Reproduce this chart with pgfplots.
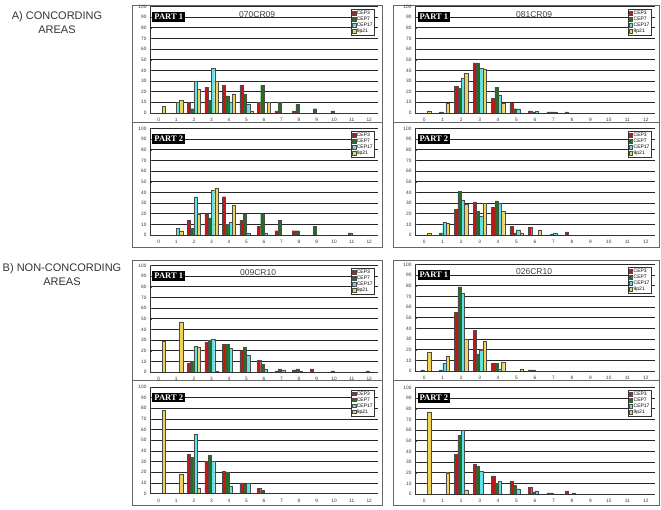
\documentclass[border=0pt]{standalone}
\usepackage{fontspec}
\setmainfont{Liberation Sans}
\newfontfamily\partfont{Liberation Serif}
\usepackage{pgfplots}
\pgfplotsset{compat=1.18}
\definecolor{cep3}{RGB}{196,22,22}
\definecolor{cep7}{RGB}{34,112,34}
\definecolor{cep17}{RGB}{95,225,235}
\definecolor{p21}{RGB}{240,212,90}
\tikzset{
  partlab/.style={fill=black, text=white, font=\partfont\bfseries\fontsize{8.5}{9}\selectfont,
    inner xsep=2pt, inner ysep=2pt, anchor=north west},
  titlelab/.style={font=\fontsize{8.5}{9}\selectfont, text=black!75},
}
\pgfplotsset{
  sqleg/.style={legend image code/.code={\draw[##1,line width=0.35pt] (0pt,-1.7pt) rectangle (3.4pt,1.7pt);}},
  s3/.style={fill=cep3, draw=black!70, line width=0.3pt, sqleg},
  s7/.style={fill=cep7, draw=black!70, line width=0.3pt, sqleg},
  s17/.style={fill=cep17, draw=black!70, line width=0.3pt, sqleg},
  s21/.style={fill=p21, draw=black!70, line width=0.3pt, sqleg},
  panel/.style={
    scale only axis, height=106.5pt,
    ybar=0pt, bar width=3.3pt,
    xmin=-0.5, xmax=12.5, ymin=0, ymax=100,
    xtick={0,...,12}, ytick={0,10,...,100},
    ymajorgrids, grid style={black!85, line width=0.7pt},
    axis line style={draw=none},
    tick pos=left,
    major x tick style={draw=none},
    major y tick style={black!70, line width=0.4pt},
    major tick length=2pt,
    tick label style={font=\fontsize{4.8}{5}\selectfont, text=black!80},
    /pgf/number format/assume math mode=true,
    clip=false,
    legend style={at={(rel axis cs:0.985,0.975)}, anchor=north east,
      font=\fontsize{5}{5.5}\selectfont, draw=black!80, line width=0.4pt, fill=white,
      inner sep=0.8pt, row sep=-0.4pt,
      nodes={inner sep=0.9pt, text height=3.6pt, text depth=1pt}},
    legend cell align=left,
    after end axis/.code={
      \draw[black!80, line width=0.6pt] (rel axis cs:0,0) -- (rel axis cs:0,1);
      \draw[black!80, line width=0.6pt] (rel axis cs:0,0) -- (rel axis cs:1,0);
    },
  },
}
\begin{document}
\begin{tikzpicture}
\useasboundingbox (0,0) rectangle (661pt,509pt);
% frames
\draw[black!60, line width=0.6pt] (132pt,504pt) rectangle (382pt,262pt);
\draw[black!60, line width=0.6pt] (132pt,387pt) -- (382pt,387pt);
\draw[black!60, line width=0.6pt] (393pt,504pt) rectangle (659pt,262pt);
\draw[black!60, line width=0.6pt] (393pt,387pt) -- (659pt,387pt);
\draw[black!60, line width=0.6pt] (132pt,249pt) rectangle (382pt,4pt);
\draw[black!60, line width=0.6pt] (132pt,129pt) -- (382pt,129pt);
\draw[black!60, line width=0.6pt] (393pt,249pt) rectangle (659pt,4pt);
\draw[black!60, line width=0.6pt] (393pt,129pt) -- (659pt,129pt);
% side labels
\node[font=\fontsize{11}{14}\selectfont, text=black!80, align=center] at (57pt,486pt) {A) CONCORDING\\AREAS};
\node[font=\fontsize{11}{14}\selectfont, text=black!80, align=center] at (62pt,234pt) {B) NON-CONCORDING\\AREAS};

% ---------- 070CR09 Part 1
\begin{axis}[panel, width=228pt, at={(150pt,396pt)}]
\addplot[s3] coordinates {(2,10)(3,24)(4,26)(5,26)(6,10)(7,2)(8,2)};
\addplot[s7] coordinates {(2,4)(3,12)(4,16)(5,18)(6,26)(7,10)(8,8)(9,4)(10,2)};
\addplot[s17] coordinates {(1,10)(2,30)(3,42)(4,10)(5,8)};
\addplot[s21] coordinates {(0,6)(1,12)(2,22)(3,30)(4,18)(5,2)(6,10)};
\legend{CEP3,CEP7,CEP17,9p21}
\node[partlab] at (rel axis cs:0.01,0.95) {PART 1};
\node[titlelab] at (rel axis cs:0.47,0.922) {070CR09};
\end{axis}
% ---------- 070CR09 Part 2
\begin{axis}[panel, width=228pt, at={(150pt,274pt)}]
\addplot[s3] coordinates {(2,14)(3,20)(4,36)(5,14)(6,8)(7,4)(8,4)};
\addplot[s7] coordinates {(2,6)(3,16)(4,10)(5,20)(6,20)(7,14)(8,4)(9,8)(11,2)};
\addplot[s17] coordinates {(1,6)(2,36)(3,42)(4,12)(5,2)(6,2)};
\addplot[s21] coordinates {(1,4)(2,20)(3,44)(4,28)};
\legend{CEP3,CEP7,CEP17,9p21}
\node[partlab] at (rel axis cs:0.01,0.95) {PART 2};
\end{axis}
% ---------- 081CR09 Part 1
\begin{axis}[panel, width=240pt, at={(415pt,396pt)}]
\addplot[s3] coordinates {(2,25)(3,47)(4,14)(5,9)(6,2)(7,1)(8,1)};
\addplot[s7] coordinates {(1,1)(2,23)(3,47)(4,24)(5,4)(6,1)(7,1)};
\addplot[s17] coordinates {(2,33)(3,42)(4,17)(5,4)(6,2)(7,1)};
\addplot[s21] coordinates {(0,2)(1,9)(2,37)(3,41)(4,9)};
\legend{CEP3,CEP7,CEP17,9p21}
\node[partlab] at (rel axis cs:0.01,0.95) {PART 1};
\node[titlelab] at (rel axis cs:0.496,0.922) {081CR09};
\end{axis}
% ---------- 081CR09 Part 2
\begin{axis}[panel, width=240pt, at={(415pt,274pt)}]
\addplot[s3] coordinates {(2,24)(3,31)(4,26)(5,8)(6,7)(8,3)};
\addplot[s7] coordinates {(1,2)(2,41)(3,22)(4,32)(5,2)(7,1)};
\addplot[s17] coordinates {(1,12)(2,33)(3,18)(4,30)(5,5)(7,2)};
\addplot[s21] coordinates {(0,2)(1,11)(2,29)(3,30)(4,22)(5,2)(6,5)};
\legend{CEP3,CEP7,CEP17,9p21}
\node[partlab] at (rel axis cs:0.01,0.95) {PART 2};
\end{axis}
% ---------- 009CR10 Part 1
\begin{axis}[panel, width=228pt, at={(150pt,137pt)}]
\addplot[s3] coordinates {(2,8)(3,28)(4,26)(5,20)(6,11)(7,1)(8,2)(9,3)};
\addplot[s7] coordinates {(2,10)(3,30)(4,26)(5,23)(6,7)(7,3)(8,3)(10,1)(12,1)};
\addplot[s17] coordinates {(2,24)(3,31)(4,22)(5,16)(6,3)(7,2)(8,1)};
\addplot[s21] coordinates {(0,29)(1,47)(2,23)(3,1)};
\legend{CEP3,CEP7,CEP17,9p21}
\node[partlab] at (rel axis cs:0.01,0.95) {PART 1};
\node[titlelab] at (rel axis cs:0.474,0.934) {009CR10};
\end{axis}
% ---------- 009CR10 Part 2
\begin{axis}[panel, width=228pt, at={(150pt,15.5pt)}]
\addplot[s3] coordinates {(2,37)(3,30)(4,21)(5,10)(6,5)};
\addplot[s7] coordinates {(2,34)(3,36)(4,20)(5,9)(6,3)};
\addplot[s17] coordinates {(2,56)(3,30)(4,7)(5,10)};
\addplot[s21] coordinates {(0,78)(1,18)(2,5)};
\legend{CEP3,CEP7,CEP17,9p21}
\node[partlab] at (rel axis cs:0.01,0.95) {PART 2};
\end{axis}
% ---------- 026CR10 Part 1
\begin{axis}[panel, width=240pt, at={(415pt,138pt)}]
\addplot[s3] coordinates {(2,55)(3,38)(4,7)(6,1)};
\addplot[s7] coordinates {(0,1)(1,1)(2,79)(3,16)(4,7)(6,1)};
\addplot[s17] coordinates {(1,7)(2,73)(3,20)(4,2)};
\addplot[s21] coordinates {(0,18)(1,14)(2,30)(3,28)(4,8)(5,2)};
\legend{CEP3,CEP7,CEP17,9p21}
\node[partlab] at (rel axis cs:0.01,0.95) {PART 1};
\node[titlelab] at (rel axis cs:0.496,0.93) {026CR10};
\end{axis}
% ---------- 026CR10 Part 2
\begin{axis}[panel, width=240pt, at={(415pt,15pt)}]
\addplot[s3] coordinates {(2,37)(3,28)(4,17)(5,12)(6,6)(7,1)(8,3)};
\addplot[s7] coordinates {(2,55)(3,26)(4,10)(5,8)(6,2)(7,1)};
\addplot[s17] coordinates {(2,60)(3,21)(4,12)(5,5)(6,3)(8,1)};
\addplot[s21] coordinates {(0,77)(1,20)(2,4)};
\legend{CEP3,CEP7,CEP17,9p21}
\node[partlab] at (rel axis cs:0.01,0.95) {PART 2};
\end{axis}
\end{tikzpicture}
\end{document}
